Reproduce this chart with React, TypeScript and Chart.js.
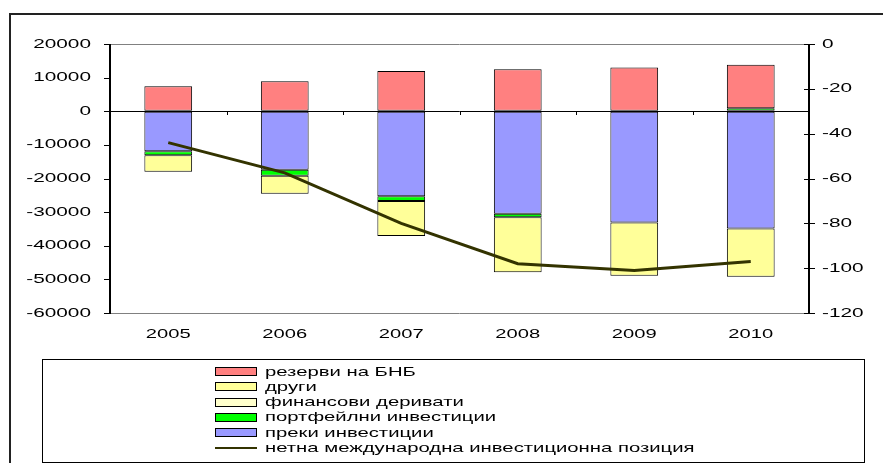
import React, { useEffect, useRef } from 'react';
import { Chart, registerables } from 'chart.js';

Chart.register(...registerables);

const years = ['2005', '2006', '2007', '2008', '2009', '2010'];
const directInvestment = [-11900, -17400, -25300, -30500, -33100, -34900];
const portfolioInvestment = [-1200, -1800, -1400, -1000, 0, 900];
const financialDerivatives = [0, 0, 0, 0, 0, 0];
const otherInvestment = [-4900, -5300, -10400, -16400, -15800, -14300];
const bnbReserves = [7400, 8900, 12000, 12500, 13000, 12900];
const netPosition = [-44, -57.5, -80, -98, -101, -97];

const leftTicks = [20000, 10000, 0, -10000, -20000, -30000, -40000, -50000, -60000];
const rightTicks = [0, -20, -40, -60, -80, -100, -120];

const labelReserves = 'резерви на БНБ';
const labelOther = 'други';
const labelDerivatives = 'финансови деривати';
const labelPortfolio = 'портфейлни инвестиции';
const labelDirect = 'преки инвестиции';
const labelNet = 'нетна международна инвестиционна позиция';

const FONT = '13px "Liberation Sans", Arial, sans-serif';

function stretchText(ctx: CanvasRenderingContext2D, text: string, x: number, y: number, align: CanvasTextAlign, sx: number) {
  ctx.save();
  ctx.font = FONT;
  ctx.fillStyle = '#000';
  ctx.textBaseline = 'middle';
  ctx.textAlign = align;
  ctx.translate(x, y);
  ctx.scale(sx, 1);
  ctx.fillText(text, 0, 0);
  ctx.restore();
}

const decorPlugin = {
  id: 'decor',
  afterDraw(chart: any) {
    const ctx: CanvasRenderingContext2D = chart.ctx;
    const ca = chart.chartArea;
    const xs = chart.scales.x;
    const ys = chart.scales.y;
    const y2 = chart.scales.y2;
    const L = ca.left, R = ca.right, T = ca.top, B = ca.bottom;

    ctx.save();
    ctx.strokeStyle = '#808080';
    ctx.lineWidth = 1;
    ctx.beginPath();
    ctx.moveTo(L, T + 0.5); ctx.lineTo(R, T + 0.5);
    ctx.moveTo(L, B + 0.5); ctx.lineTo(R, B + 0.5);
    ctx.stroke();

    ctx.strokeStyle = '#000';
    ctx.lineWidth = 2;
    ctx.beginPath();
    ctx.moveTo(L, T); ctx.lineTo(L, B + 1);
    ctx.moveTo(R, T); ctx.lineTo(R, B + 1);
    ctx.stroke();
    ctx.lineWidth = 1;
    ctx.beginPath();
    leftTicks.forEach((v) => {
      const py = Math.round(ys.getPixelForValue(v)) + 0.5;
      ctx.moveTo(L - 6, py); ctx.lineTo(L, py);
    });
    rightTicks.forEach((v) => {
      const py = Math.round(y2.getPixelForValue(v)) + 0.5;
      ctx.moveTo(R - 5, py); ctx.lineTo(R + 6, py);
    });
    const y0 = Math.round(ys.getPixelForValue(0));
    for (let i = 0; i < years.length - 1; i++) {
      const bx = Math.round((xs.getPixelForValue(i) + xs.getPixelForValue(i + 1)) / 2) + 0.5;
      ctx.moveTo(bx, y0); ctx.lineTo(bx, y0 + 4);
    }
    ctx.stroke();

    leftTicks.forEach((v) => stretchText(ctx, String(v), 91, ys.getPixelForValue(v), 'right', 1.6));
    rightTicks.forEach((v) => stretchText(ctx, String(v), 822, y2.getPixelForValue(v), 'left', 1.6));
    years.forEach((yr, i) => stretchText(ctx, yr, xs.getPixelForValue(i), 334, 'center', 1.55));

    ctx.strokeStyle = '#000';
    ctx.lineWidth = 1;
    ctx.strokeRect(42.5, 359.5, 822, 103);
    const order = [4, 3, 2, 1, 0, 5];
    order.forEach((di, row) => {
      const ds = chart.data.datasets[di];
      const cy = 371 + row * 15.3;
      if (ds.type === 'line') {
        ctx.fillStyle = ds.borderColor;
        ctx.fillRect(215, Math.round(cy) - 1, 42, 2);
      } else {
        ctx.fillStyle = ds.backgroundColor;
        ctx.fillRect(215.5, Math.round(cy) - 3.5, 41, 8);
        ctx.strokeRect(215.5, Math.round(cy) - 3.5, 41, 8);
      }
      stretchText(ctx, ds.label, 265, cy + 1, 'left', 1.56);
    });

    ctx.strokeStyle = '#222';
    ctx.lineWidth = 2;
    ctx.strokeRect(10, 14, 900, 500);
    ctx.restore();
  },
};

export default function App() {
  const ref = useRef<HTMLCanvasElement | null>(null);
  useEffect(() => {
    if (!ref.current) return;
    const barCommon = {
      type: 'bar' as const,
      stack: 's',
      yAxisID: 'y',
      borderColor: '#000',
      borderWidth: 1,
      borderSkipped: false,
      barPercentage: 0.41,
      categoryPercentage: 1,
    };
    const chart = new Chart(ref.current, {
      type: 'bar',
      data: {
        labels: years,
        datasets: [
          { ...barCommon, label: labelDirect, data: directInvestment, backgroundColor: '#9999FF' },
          { ...barCommon, label: labelPortfolio, data: portfolioInvestment, backgroundColor: '#00FF00' },
          { ...barCommon, label: labelDerivatives, data: financialDerivatives, backgroundColor: '#FFFFCC' },
          { ...barCommon, label: labelOther, data: otherInvestment, backgroundColor: '#FFFF99' },
          { ...barCommon, label: labelReserves, data: bnbReserves, backgroundColor: '#FF8080' },
          {
            type: 'line',
            label: labelNet,
            data: netPosition,
            yAxisID: 'y2',
            borderColor: '#333300',
            backgroundColor: '#333300',
            borderWidth: 3,
            pointRadius: 0,
            tension: 0,
            fill: false,
            order: -1,
          } as any,
        ],
      },
      options: {
        responsive: false,
        animation: false,
        layout: { padding: { top: 44, bottom: 120, left: 0, right: 0 } },
        plugins: { legend: { display: false }, tooltip: { enabled: false }, title: { display: false } },
        scales: {
          x: {
            stacked: true,
            offset: true,
            grid: { display: false },
            border: { display: false },
            ticks: { display: false },
            afterFit: (s: any) => { s.height = 30; },
          },
          y: {
            stacked: true,
            position: 'left',
            min: -60000,
            max: 20000,
            ticks: { display: false, stepSize: 10000 },
            border: { display: false },
            grid: {
              drawTicks: false,
              color: (c: any) => (c.tick && c.tick.value === 0 ? '#000' : 'rgba(0,0,0,0)'),
              lineWidth: 1,
            },
            afterFit: (s: any) => { s.width = 110; },
          },
          y2: {
            position: 'right',
            min: -120,
            max: 0,
            ticks: { display: false, stepSize: 20 },
            border: { display: false },
            grid: { display: false },
            afterFit: (s: any) => { s.width = 74; },
          },
        },
      },
      plugins: [decorPlugin],
    } as any);
    return () => chart.destroy();
  }, []);
  return (
    <div style={{ position: 'absolute', left: 0, top: 0, width: 883, height: 463, background: '#fff' }}>
      <canvas ref={ref} width={883} height={463} style={{ display: 'block', width: 883, height: 463 }} />
    </div>
  );
}
